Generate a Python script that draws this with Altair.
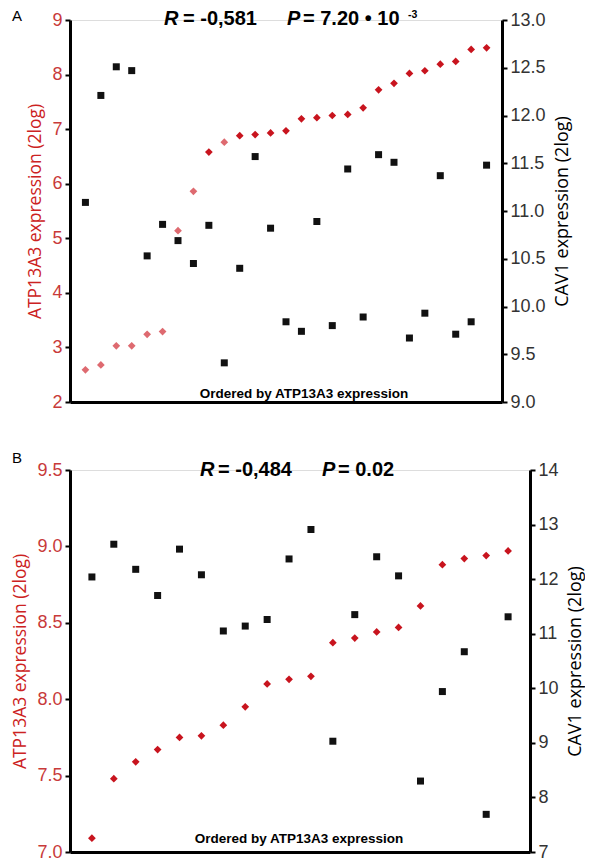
import altair as alt
import pandas as pd

# ---------------- data ----------------
idx_a = list(range(1, 28))
atp_a = [2.59, 2.68, 3.03, 3.03, 3.24, 3.29, 5.14, 5.86, 6.58, 6.76, 6.88, 6.90, 6.93, 6.97,
         7.19, 7.21, 7.25, 7.27, 7.39, 7.72, 7.84, 8.02, 8.07, 8.19, 8.24, 8.46, 8.49]
cav_a = [11.09, 12.21, 12.51, 12.47, 10.53, 10.86, 10.69, 10.45, 10.85, 9.41, 10.40, 11.57,
         10.82, 9.84, 9.74, 10.89, 9.80, 11.44, 9.89, 11.59, 11.51, 9.67, 9.93, 11.37, 9.71,
         9.84, 11.48]

idx_b = list(range(1, 21))
atp_b = [7.09, 7.48, 7.59, 7.67, 7.75, 7.76, 7.83, 7.95, 8.10, 8.13, 8.15, 8.37, 8.40, 8.44,
         8.47, 8.61, 8.88, 8.92, 8.94, 8.97]
cav_b = [12.04, 12.64, 12.18, 11.70, 12.55, 12.08, 11.05, 11.14, 11.26, 12.37, 12.91, 9.03,
         11.35, 12.41, 12.06, 8.30, 9.94, 10.67, 7.69, 11.31]

left_ticks_a = [2, 3, 4, 5, 6, 7, 8, 9]
right_ticks_a = [9.0, 9.5, 10.0, 10.5, 11.0, 11.5, 12.0, 12.5, 13.0]
left_ticks_b = [7.0, 7.5, 8.0, 8.5, 9.0, 9.5]
right_ticks_b = [7, 8, 9, 10, 11, 12, 13, 14]

RED = "#c8141e"
LIGHT_RED = "#de6a70"
LABEL_RED = "#c83a3a"
NUM_FONT = "Liberation Sans"
TITLE_FONT = "Open Sans"


def txt(s, x, y, size=20, weight="bold", style="normal", align="left", color="black", font=NUM_FONT):
    one = pd.DataFrame({"k": [0]})
    return alt.Chart(one).mark_text(
        align=align, baseline="middle", fontSize=size, fontWeight=weight,
        fontStyle=style, font=font, color=color
    ).encode(x=alt.value(x), y=alt.value(y), text=alt.value(s))


def panel(idx, atp, cav, xmax, width, height, ldom, lvals, lfmt, rdom, rvals, rfmt,
          light_test, extra):
    df = pd.DataFrame({"i": idx, "atp": atp, "cav": cav})
    xaxis = alt.Axis(title=None, labels=False, ticks=False, grid=False,
                     domainColor="black", domainWidth=3)
    xenc = alt.X("i:Q", scale=alt.Scale(domain=[0, xmax], nice=False, zero=False), axis=xaxis)
    red = alt.Chart(df).mark_point(shape="diamond", filled=True, size=60, opacity=1).encode(
        x=xenc,
        y=alt.Y("atp:Q", scale=alt.Scale(domain=ldom, nice=False, zero=False),
                axis=alt.Axis(orient="left", values=lvals, format=lfmt, grid=False,
                              title="ATP13A3 expression (2log)", titleColor="#cc2222",
                              titleFont=TITLE_FONT, titleFontSize=17.5, titleFontWeight="normal",
                              titlePadding=7,
                              labelColor=LABEL_RED, labelFont=NUM_FONT, labelFontSize=18,
                              labelPadding=3, tickSize=5, tickWidth=2, tickColor="black",
                              domainColor="black", domainWidth=3)),
        color=alt.condition(light_test, alt.value(LIGHT_RED), alt.value(RED)),
    )
    black = alt.Chart(df).mark_point(shape="square", filled=True, size=49, opacity=1,
                                     color="#111111").encode(
        x=xenc,
        y=alt.Y("cav:Q", scale=alt.Scale(domain=rdom, nice=False, zero=False),
                axis=alt.Axis(orient="right", values=rvals, format=rfmt, grid=False,
                              title="CAV1 expression (2log)", titleColor="black",
                              titleFont=TITLE_FONT, titleFontSize=18, titleFontWeight="normal",
                              titleAngle=270, titlePadding=26,
                              labelColor="#333333", labelFont=NUM_FONT, labelFontSize=18,
                              labelPadding=3, tickSize=5, tickWidth=2, tickColor="black",
                              domainColor="black", domainWidth=3)),
    )
    pts = alt.layer(red, black).resolve_scale(y="independent")
    return alt.layer(pts, *extra).properties(width=width, height=height)


extra_a = [
    txt("A", -58, -4, size=15, weight="normal"),
    txt("R", 94, -1, style="italic"),
    txt("= -0,581", 113, -1),
    txt("P", 217, -1, style="italic"),
    txt("= 7.20 \u2022 10", 233, -1),
    txt("-3", 338, -5, size=10.5),
    txt("Ordered by ATP13A3  expression", 234, 374, size=13.5, align="center"),
]
extra_b = [
    txt("B", -58, -12, size=15, weight="normal"),
    txt("R", 130, 0, style="italic"),
    txt("= -0,484", 148, 0),
    txt("P", 252, 0, style="italic"),
    txt("= 0.02", 268, 0),
    txt("Ordered by ATP13A3  expression", 229, 369, size=13.5, align="center"),
]

pa = panel(idx_a, atp_a, cav_a, 28, 432, 382, [2, 9], left_ticks_a, "d",
           [9, 13], right_ticks_a, ".1f", "datum.i <= 8 || datum.i == 10", extra_a)
pb = panel(idx_b, atp_b, cav_b, 21, 460, 382, [7, 9.5], left_ticks_b, ".1f",
           [7, 14], right_ticks_b, "d", "false", extra_b)

chart = alt.vconcat(pa, pb, spacing=38).properties(
    padding={"top": 0, "left": 3, "right": 0, "bottom": 0}).configure_view(
    strokeWidth=0).configure(background="white")

chart.save("out.html", embed_options={"renderer": "svg", "actions": False})
